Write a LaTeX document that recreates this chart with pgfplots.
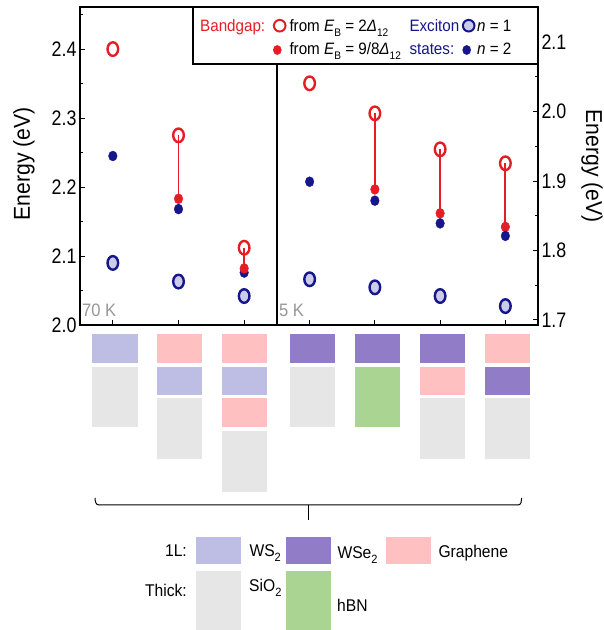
\documentclass[border=0pt]{standalone}
\usepackage{fontspec}
\setmainfont[FakeStretch=0.92]{Liberation Sans}
\newfontfamily\tickfont[FakeStretch=0.85]{Liberation Sans}
\usepackage{pgfplots}
\pgfplotsset{compat=1.18}

\definecolor{myred}{RGB}{228,30,36}
\definecolor{navy}{RGB}{22,22,140}
\definecolor{lav}{RGB}{204,204,234}
\definecolor{wsii}{RGB}{190,190,228}
\definecolor{wseii}{RGB}{145,124,200}
\definecolor{gra}{RGB}{255,192,194}
\definecolor{sio}{RGB}{230,230,230}
\definecolor{hbn}{RGB}{170,212,145}
\definecolor{lbl}{RGB}{150,150,150}

\newcommand{\sub}[1]{\raisebox{-0.55ex}{\fontsize{11}{11}\selectfont #1}}
\newcommand{\lsub}[1]{\raisebox{-0.55ex}{\fontsize{12}{12}\selectfont #1}}

\pgfplotsset{
  panel/.style={
    scale only axis, height=318pt, anchor=south west,
    axis line style={line width=1.1pt},
    tick style={line width=1pt, black},
    major tick length=5pt, minor tick length=3pt,
    tick align=inside,
    xticklabels={}, xtick pos=left,
    yticklabel style={font=\fontsize{21}{21}\selectfont\tickfont,
      /pgf/number format/.cd, fixed, fixed zerofill, precision=1, assume math mode=true},
    clip=false,
  },
  lineS/.style={myred, line width=1.8pt},
  exS/.style={only marks, mark=*, mark size=6.8pt, mark options={xscale=0.78, draw=navy, fill=lav, line width=2.4pt}},
  roS/.style={only marks, mark=o, mark size=6.8pt, mark options={xscale=0.78, draw=myred, line width=2.4pt}},
  ndS/.style={only marks, mark=*, mark size=5.0pt, mark options={xscale=0.86, draw=navy, fill=navy}},
  rdS/.style={only marks, mark=*, mark size=5.0pt, mark options={xscale=0.86, draw=myred, fill=myred}},
}

\begin{document}
\begin{tikzpicture}[x=1pt,y=1pt]
\useasboundingbox (0,0) rectangle (604,630);

% left panel (70 K)
\begin{axis}[panel, at={(80pt,305pt)}, width=197pt,
  xmin=-0.5, xmax=2.5, ymin=2.0, ymax=2.461,
  xtick={0,1,2},
  ytick={2.0,2.1,2.2,2.3,2.4}, minor ytick={2.05,2.15,2.25,2.35,2.45},
  ytick pos=left]
\addplot[lineS] coordinates {(1,2.275) (1,2.183)};
\addplot[lineS] coordinates {(2,2.112) (2,2.082)};
\addplot[exS] coordinates {(0,2.090) (1,2.063) (2,2.042)};
\addplot[roS] coordinates {(0,2.400) (1,2.275) (2,2.112)};
\addplot[ndS] coordinates {(0,2.245) (1,2.168) (2,2.076)};
\addplot[rdS] coordinates {(1,2.183) (2,2.082)};
\end{axis}

% right panel (5 K)
\begin{axis}[panel, at={(277pt,305pt)}, width=261pt,
  xmin=2.5, xmax=6.5, ymin=1.6928, ymax=2.1504,
  xtick={3,4,5,6},
  ytick={1.7,1.8,1.9,2.0,2.1}, minor ytick={1.75,1.85,1.95,2.05},
  ytick pos=right, yticklabel pos=right]
\addplot[lineS] coordinates {(4,1.9974) (4,1.888)};
\addplot[lineS] coordinates {(5,1.9456) (5,1.8535)};
\addplot[lineS] coordinates {(6,1.9255) (6,1.834)};
\addplot[exS] coordinates {(3,1.7586) (4,1.747) (5,1.7345) (6,1.720)};
\addplot[roS] coordinates {(3,2.0406) (4,1.9974) (5,1.9456) (6,1.9255)};
\addplot[rdS] coordinates {(4,1.888) (5,1.8535) (6,1.834)};
\addplot[ndS] coordinates {(3,1.899) (4,1.8717) (5,1.839) (6,1.821)};
\end{axis}

% axis labels
\node[rotate=90, font=\fontsize{23}{23}\selectfont] at (24,466) {Energy (eV)};
\node[rotate=-90, font=\fontsize{23}{23}\selectfont] at (592,464) {Energy (eV)};
\node[anchor=base west, inner sep=0, text=lbl, font=\fontsize{18}{18}\selectfont] at (82,313.5) {70 K};
\node[anchor=base west, inner sep=0, text=lbl, font=\fontsize{18}{18}\selectfont] at (279,313.5) {5 K};

% top legend
\draw[line width=1.1pt, fill=white] (193,566) rectangle (538,623);
\begin{scope}[every node/.style={anchor=base west, inner sep=0, font=\fontsize{16.5}{16.5}\selectfont}]
\node[text=myred] at (200,598.3) {Bandgap:};
\draw[myred, line width=2pt] (279.7,604.3) circle (5.8);
\node at (289.3,598.3) {from \textit{E}\sub{B} = 2\textit{Δ}\sub{12}};
\fill[myred] (277.3,580) ellipse (4.3 and 4.9);
\node at (289.3,575.7) {from \textit{E}\sub{B} = 9/8\textit{Δ}\sub{12}};
\node[text=navy] at (409.3,598.3) {Exciton};
\draw[navy, fill=lav, line width=2pt] (468.7,604.3) circle (5.8);
\node at (477,598.3) {\textit{n} = 1};
\node[text=navy] at (409.3,575.7) {states:};
\fill[navy] (466.7,580) ellipse (4.3 and 4.9);
\node at (477,575.7) {\textit{n} = 2};
\end{scope}

% sample stacks
\def\hw{22.7}
\foreach \c/\col in {115/wsii, 179.7/gra, 244.3/gra, 312.3/wseii, 377.3/wseii, 442.5/wseii, 507.5/gra}
  \fill[\col] (\c-\hw,267.3) rectangle (\c+\hw,296);
\foreach \c/\col in {179.7/wsii, 244.3/wsii, 442.5/gra, 507.5/wseii}
  \fill[\col] (\c-\hw,235.3) rectangle (\c+\hw,263.3);
\fill[gra] (244.3-\hw,203) rectangle (244.3+\hw,231.7);
\foreach \c in {115, 312.3}
  \fill[sio] (\c-\hw,203) rectangle (\c+\hw,263.3);
\fill[hbn] (377.3-\hw,203) rectangle (377.3+\hw,263.3);
\foreach \c in {179.7, 442.5, 507.5}
  \fill[sio] (\c-\hw,170.7) rectangle (\c+\hw,231.7);
\fill[sio] (244.3-\hw,138) rectangle (244.3+\hw,199.3);

% brace
\draw[line width=1pt] (95,132) to[out=-90,in=180] (99,125) -- (518,125) to[out=0,in=-90] (521.7,132);
\draw[line width=1pt] (308,125) -- (308,110);

% bottom legend
\fill[wsii] (196,65.7) rectangle (240.7,93.3);
\fill[wseii] (286,65.7) rectangle (331,93.3);
\fill[gra] (386,65.7) rectangle (431,93.3);
\fill[sio] (196,0) rectangle (240.7,59.3);
\fill[hbn] (286,0) rectangle (331,59.3);
\begin{scope}[every node/.style={inner sep=0, font=\fontsize{17}{17}\selectfont}]
\node[anchor=base east] at (187,73) {1L:};
\node[anchor=base west] at (249.3,73) {WS\lsub{2}};
\node[anchor=base west] at (337.3,71) {WSe\lsub{2}};
\node[anchor=base west] at (438.3,72) {Graphene};
\node[anchor=base east] at (187,33.3) {Thick:};
\node[anchor=base west] at (249,38.3) {SiO\lsub{2}};
\node[anchor=base west] at (337,18.3) {hBN};
\end{scope}
\end{tikzpicture}
\end{document}
